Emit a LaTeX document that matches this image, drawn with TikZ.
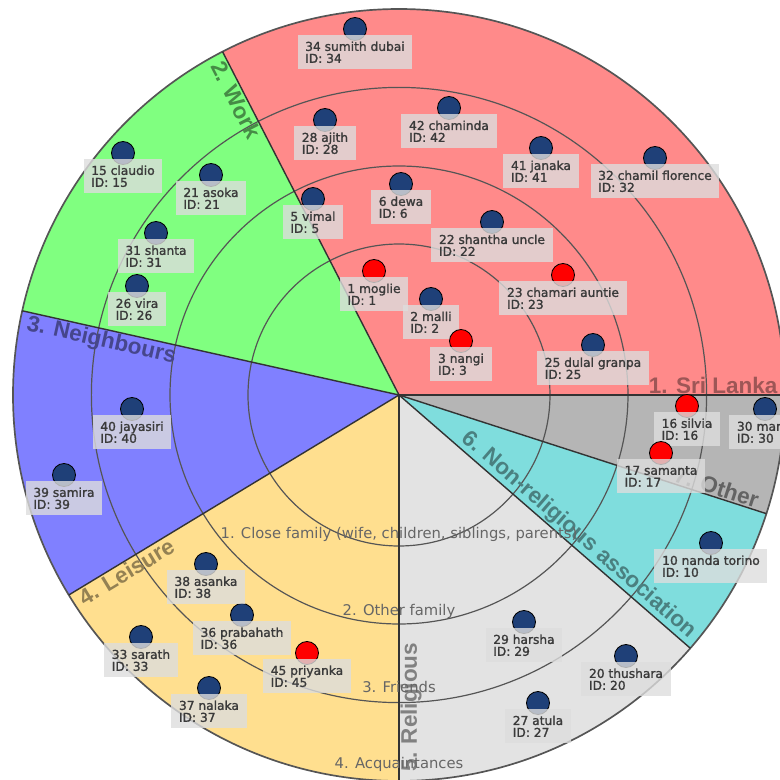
\documentclass[tikz,border=0pt]{standalone}
\usepackage[dvipsnames]{xcolor}
\usepackage{fontspec}
\setmainfont{DejaVu Sans}
\newfontfamily\labelfont{Liberation Sans}
\newfontfamily\tagfont{DejaVu Sans}[FakeBold=1.5]
\usepackage{tikz}
\usetikzlibrary{positioning}

\definecolor{srilanka}{RGB}{255,138,138}
\definecolor{work}{RGB}{128,255,128}
\definecolor{neighbours}{RGB}{128,128,255}
\definecolor{leisure}{RGB}{255,223,143}
\definecolor{religious}{RGB}{227,227,227}
\definecolor{nonreligious}{RGB}{127,221,221}
\definecolor{other}{RGB}{181,181,181}
\definecolor{navy}{RGB}{31,64,120}
\definecolor{tagfill}{RGB}{221,221,221}
\definecolor{tagtext}{RGB}{58,58,58}
\definecolor{ringline}{RGB}{85,85,85}
\definecolor{ringtext}{RGB}{102,102,102}

\begin{document}
\begin{tikzpicture}[
		dot/.style={circle, draw=black, line width=0.6pt, minimum size=0.575cm, inner sep=0pt},
		male/.style={dot, fill=navy},
		female/.style={dot, fill=red},
		tag/.style={fill=tagfill, fill opacity=0.8, text opacity=1, text=tagtext, align=left, inner xsep=5.5pt, inner ysep=0pt, minimum height=0.85cm, font=\tagfont\fontsize{8.7}{8.5}\selectfont},
		ring/.style={draw=ringline, line width=0.85pt},
		ringlabel/.style={text=ringtext, anchor=base, inner sep=0pt, font=\fontsize{10.5}{12}\selectfont},
		sector/.style={inner sep=1pt, font=\labelfont\bfseries\fontsize{16}{18}\selectfont},
		border/.style={draw=black!80, line width=1pt}
	]
		\useasboundingbox (-9.975,-9.625) rectangle (9.525,9.875);
		\clip (-9.975,-9.625) rectangle (9.525,9.875);
		\coordinate (o) at (0,0);

		\fill[srilanka] (o) -- (0:9.65) arc[start angle=0, end angle=117.2, radius=9.65] -- cycle;
		\fill[work] (o) -- (117.2:9.65) arc[start angle=117.2, end angle=167.4, radius=9.65] -- cycle;
		\fill[neighbours] (o) -- (167.4:9.65) arc[start angle=167.4, end angle=211.2, radius=9.65] -- cycle;
		\fill[leisure] (o) -- (211.2:9.65) arc[start angle=211.2, end angle=270, radius=9.65] -- cycle;
		\fill[religious] (o) -- (270:9.65) arc[start angle=270, end angle=319, radius=9.65] -- cycle;
		\fill[nonreligious] (o) -- (319:9.65) arc[start angle=319, end angle=342.1, radius=9.65] -- cycle;
		\fill[other] (o) -- (342.1:9.65) arc[start angle=342.1, end angle=360, radius=9.65] -- cycle;

		\draw[ring] (o) circle[radius=3.775];
		\draw[ring] (o) circle[radius=5.725];
		\draw[ring] (o) circle[radius=7.69];
		\draw[ring, line width=1.2pt] (o) circle[radius=9.65];

		\draw[border] (o) -- (0:9.65);
		\draw[border] (o) -- (117.2:9.65);
		\draw[border] (o) -- (167.4:9.65);
		\draw[border] (o) -- (211.2:9.65);
		\draw[border] (o) -- (270:9.65);
		\draw[border] (o) -- (319:9.65);
		\draw[border] (o) -- (342.1:9.65);

		\node[sector, text=srilanka!62!black, anchor=south east] (srilanka) at (0:9.5) {1. Sri Lanka};
		\node[sector, text=work!55!black, anchor=north west, rotate=-62.8] (work) at (117.2:9.5) {2. Work};
		\node[sector, text=neighbours!55!black, anchor=north west, rotate=-12.6] (neighbours) at (167.4:9.5) {3. Neighbours};
		\node[sector, text=leisure!58!black, anchor=north west, rotate=31.2] (leisure) at (211.2:9.5) {4. Leisure};
		\node[sector, text=religious!57!black, anchor=north west, rotate=90] (religious) at (270:9.45) {5. Religious};
		\node[sector, text=nonreligious!58!black, anchor=south east, rotate=-41] (nonreligious) at (319:9.5) {6. Non-religious association};
		\node[sector, text=other!55!black, anchor=south east, rotate=-17.9] (other) at (342.1:9.4) {7. Other};

		\node[ringlabel] (closefamily) at (0,-3.575) {1. Close family (wife, children, siblings, parents)};
		\node[ringlabel] (otherfamily) at (0,-5.5) {2. Other family};
		\node[ringlabel] (friends) at (0,-7.425) {3. Friends};
		\node[ringlabel] (acquaintances) at (0,-9.325) {4. Acquaintances};

		\node[female] (p1) at (-0.625,3.10) {};
		\node[tag, below=0.15cm of p1.center] (t1) {1 moglie\\ID: 1};
		\node[male] (p2) at (0.80,2.40) {};
		\node[tag, below=0.15cm of p2.center] (t2) {2 malli\\ID: 2};
		\node[female] (p3) at (1.55,1.35) {};
		\node[tag, below=0.15cm of p3.center] (t3) {3 nangi\\ID: 3};
		\node[male] (p5) at (-2.15,4.90) {};
		\node[tag, below=0.15cm of p5.center] (t5) {5 vimal\\ID: 5};
		\node[male] (p6) at (0.05,5.275) {};
		\node[tag, below=0.15cm of p6.center] (t6) {6 dewa\\ID: 6};
		\node[male] (p10) at (7.80,-3.70) {};
		\node[tag, below=0.15cm of p10.center] (t10) {10 nanda torino\\ID: 10};
		\node[male] (p15) at (-6.90,6.05) {};
		\node[tag, below=0.15cm of p15.center] (t15) {15 claudio\\ID: 15};
		\node[female] (p16) at (7.20,-0.275) {};
		\node[tag, below=0.15cm of p16.center] (t16) {16 silvia\\ID: 16};
		\node[female] (p17) at (6.55,-1.45) {};
		\node[tag, below=0.15cm of p17.center] (t17) {17 samanta\\ID: 17};
		\node[male] (p20) at (5.675,-6.525) {};
		\node[tag, below=0.15cm of p20.center] (t20) {20 thushara\\ID: 20};
		\node[male] (p21) at (-4.70,5.50) {};
		\node[tag, below=0.15cm of p21.center] (t21) {21 asoka\\ID: 21};
		\node[male] (p22) at (2.325,4.325) {};
		\node[tag, below=0.15cm of p22.center] (t22) {22 shantha uncle\\ID: 22};
		\node[female] (p23) at (4.10,3.00) {};
		\node[tag, below=0.15cm of p23.center] (t23) {23 chamari auntie\\ID: 23};
		\node[male] (p25) at (4.85,1.25) {};
		\node[tag, below=0.15cm of p25.center] (t25) {25 dulal granpa\\ID: 25};
		\node[male] (p26) at (-6.55,2.725) {};
		\node[tag, below=0.15cm of p26.center] (t26) {26 vira\\ID: 26};
		\node[male] (p27) at (3.475,-7.70) {};
		\node[tag, below=0.15cm of p27.center] (t27) {27 atula\\ID: 27};
		\node[male] (p28) at (-1.85,6.875) {};
		\node[tag, below=0.15cm of p28.center] (t28) {28 ajith\\ID: 28};
		\node[male] (p29) at (3.125,-5.675) {};
		\node[tag, below=0.15cm of p29.center] (t29) {29 harsha\\ID: 29};
		\node[male] (p30) at (9.15,-0.35) {};
		\node[tag, text width=1.4cm, below=0.15cm of p30.center] (t30) {30 mar\\ID: 30};
		\node[male] (p31) at (-6.075,4.05) {};
		\node[tag, below=0.15cm of p31.center] (t31) {31 shanta\\ID: 31};
		\node[male] (p32) at (6.40,5.925) {};
		\node[tag, below=0.15cm of p32.center] (t32) {32 chamil florence\\ID: 32};
		\node[male] (p33) at (-6.45,-6.05) {};
		\node[tag, below=0.15cm of p33.center] (t33) {33 sarath\\ID: 33};
		\node[male] (p34) at (-1.10,9.15) {};
		\node[tag, below=0.15cm of p34.center] (t34) {34 sumith dubai\\ID: 34};
		\node[male] (p36) at (-3.925,-5.50) {};
		\node[tag, below=0.15cm of p36.center] (t36) {36 prabahath\\ID: 36};
		\node[male] (p37) at (-4.75,-7.325) {};
		\node[tag, below=0.15cm of p37.center] (t37) {37 nalaka\\ID: 37};
		\node[male] (p38) at (-4.825,-4.225) {};
		\node[tag, below=0.15cm of p38.center] (t38) {38 asanka\\ID: 38};
		\node[male] (p39) at (-8.375,-2.00) {};
		\node[tag, below=0.15cm of p39.center] (t39) {39 samira\\ID: 39};
		\node[male] (p40) at (-6.675,-0.35) {};
		\node[tag, below=0.15cm of p40.center] (t40) {40 jayasiri\\ID: 40};
		\node[male] (p41) at (3.55,6.175) {};
		\node[tag, below=0.15cm of p41.center] (t41) {41 janaka\\ID: 41};
		\node[male] (p42) at (1.25,7.175) {};
		\node[tag, below=0.15cm of p42.center] (t42) {42 chaminda\\ID: 42};
		\node[female] (p45) at (-2.30,-6.45) {};
		\node[tag, below=0.15cm of p45.center] (t45) {45 priyanka\\ID: 45};
	\end{tikzpicture}
\end{document}
